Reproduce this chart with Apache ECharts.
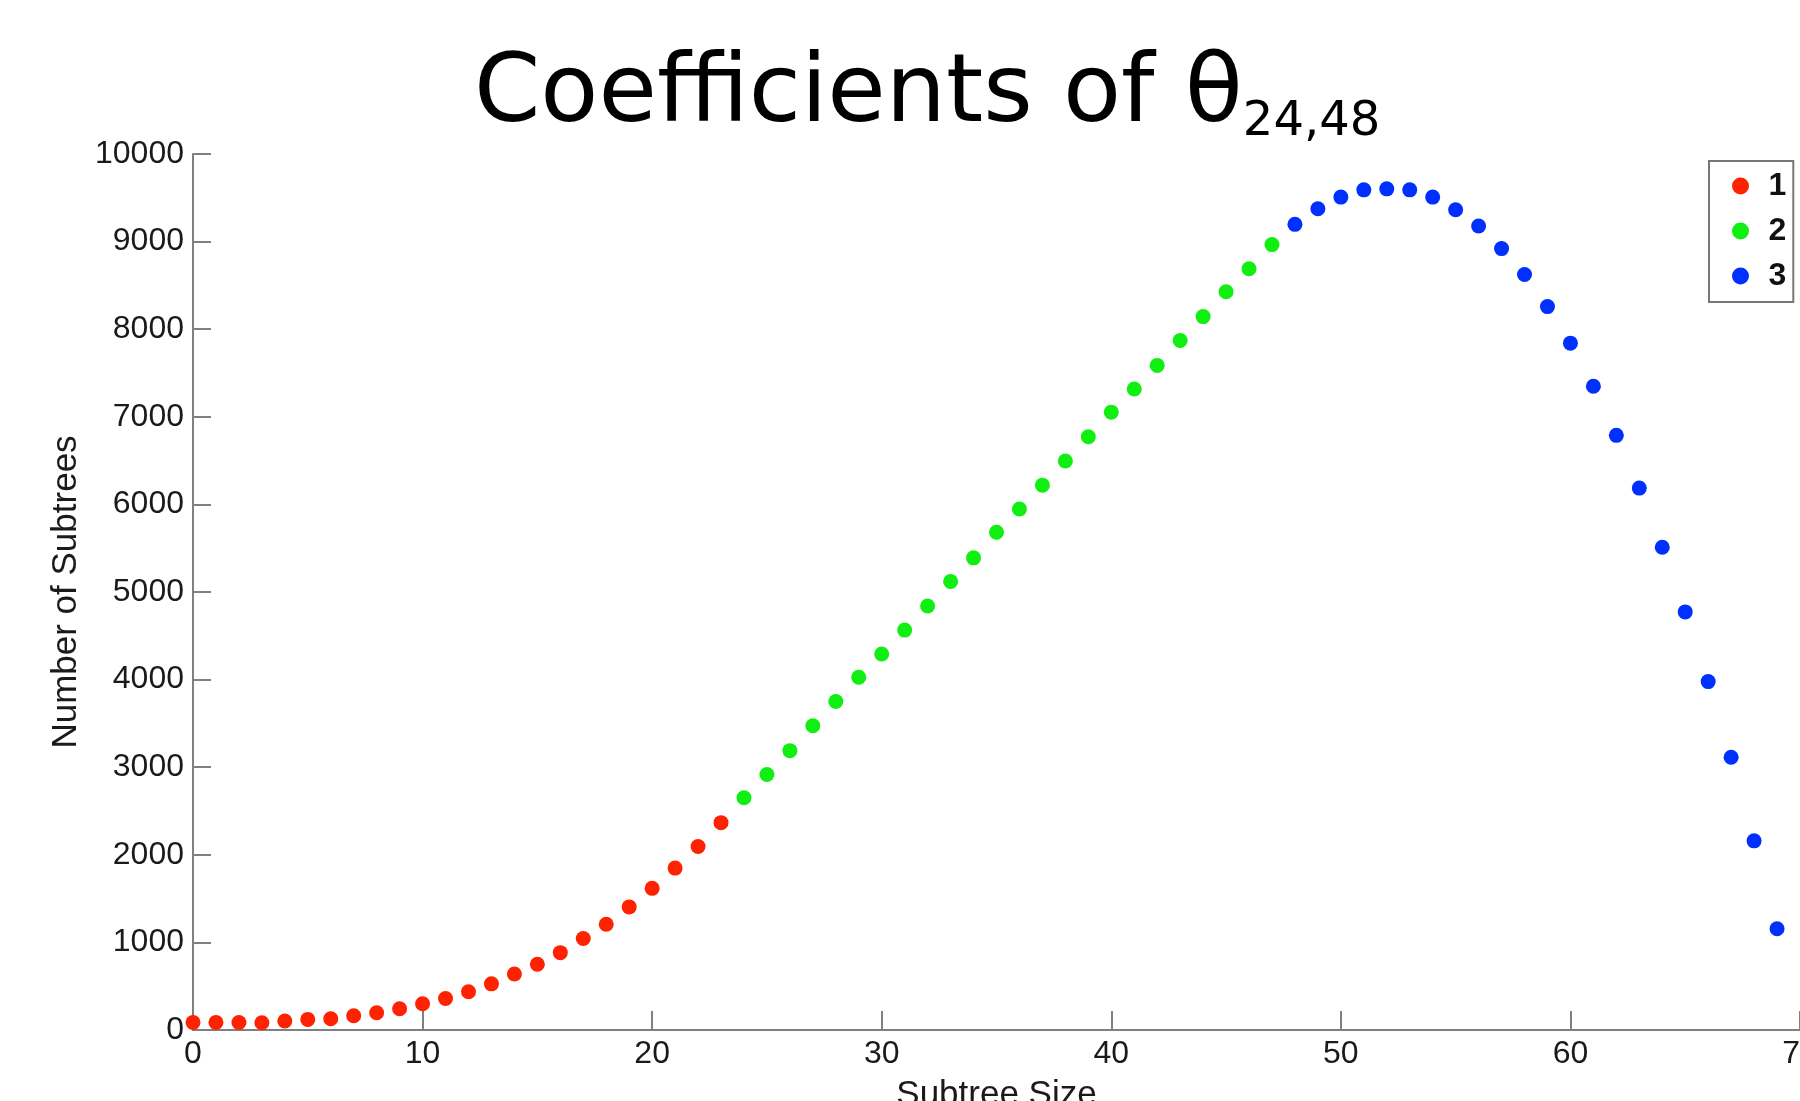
<!DOCTYPE html>
<html>
<head>
<meta charset="utf-8">
<style>
html,body{margin:0;padding:0;background:#fff;}
#chart{width:1800px;height:1101px;}
</style>
<script src="https://cdn.jsdelivr.net/npm/echarts@6/dist/echarts.min.js"></script>
</head>
<body>
<div id="chart"></div>
<script>
// Subtree sizes per group
const sizes1 = [0,1,2,3,4,5,6,7,8,9,10,11,12,13,14,15,16,17,18,19,20,21,22,23];
const counts1 = [87,87,85,83,102,121,129,163,197,242,299,360,436,527,640,750,883,1045,1208,1405,1617,1848,2095,2367];
const sizes2 = [24,25,26,27,28,29,30,31,32,33,34,35,36,37,38,39,40,41,42,43,44,45,46,47];
const counts2 = [2651,2917,3189,3473,3750,4027,4292,4565,4841,5121,5390,5682,5947,6220,6496,6773,7053,7318,7587,7871,8144,8428,8690,8966];
const sizes3 = [48,49,50,51,52,53,54,55,56,57,58,59,60,61,62,63,64,65,66,67,68,69];
const counts3 = [9197,9375,9508,9591,9602,9591,9508,9364,9178,8920,8625,8258,7841,7348,6788,6186,5511,4773,3977,3114,2159,1156];
const seriesNames = ['1','2','3'];
const xTicks = {min:0, max:70, interval:10};
const yTicks = {min:0, max:10000, interval:1000};

const pair = (xs, ys) => xs.map((x, i) => [x, ys[i]]);
const colors = ['#ff2200', '#11ee11', '#0030ff'];
const tickFont = {fontFamily:'Liberation Sans, Arial, sans-serif', fontSize:32, color:'#1a1a1a'};

const chart = echarts.init(document.getElementById('chart'), null, {renderer:'canvas'});
chart.setOption({
  backgroundColor:'#fff',
  animation:false,
  title:{
    left:474, top:49, padding:0,
    text:'{a|Coefficients of θ}{b|24,48}',
    textStyle:{
      fontWeight:'normal',
      rich:{
        a:{fontFamily:'DejaVu Sans', fontSize:95, fontWeight:'normal', color:'#000', lineHeight:90, verticalAlign:'top'},
        b:{fontFamily:'DejaVu Sans', fontSize:48, fontWeight:'normal', color:'#000', lineHeight:98, verticalAlign:'bottom'}
      }
    }
  },
  legend:{
    orient:'vertical', left:1709, top:161,
    padding:[9,7,10,23],
    borderColor:'#777', borderWidth:2, backgroundColor:'#fff',
    itemWidth:46, itemHeight:17, itemGap:13,
    icon:'circle',
    textStyle:{fontFamily:'Liberation Sans, Arial, sans-serif', fontSize:32, fontWeight:'bold', color:'#111', lineHeight:30},
    data:seriesNames
  },
  grid:{left:193, right:0, top:154, bottom:71, containLabel:false, outerBoundsMode:'none'},
  xAxis:{
    type:'value', min:xTicks.min, max:xTicks.max, interval:xTicks.interval,
    name:'Subtree Size', nameLocation:'middle', nameGap:48,
    nameTextStyle:{fontFamily:'Liberation Sans, Arial, sans-serif', fontSize:35, color:'#1a1a1a'},
    axisLine:{show:true, onZero:false, lineStyle:{color:'#808080', width:2}},
    axisTick:{show:true, inside:true, length:19, lineStyle:{color:'#808080', width:2}},
    axisLabel:Object.assign({margin:8, formatter:v=>String(v)}, tickFont),
    splitLine:{show:false}
  },
  yAxis:{
    type:'value', min:yTicks.min, max:yTicks.max, interval:yTicks.interval,
    name:'Number of Subtrees', nameLocation:'middle', nameGap:108,
    nameTextStyle:{fontFamily:'Liberation Sans, Arial, sans-serif', fontSize:35, color:'#1a1a1a'},
    axisLine:{show:true, onZero:false, lineStyle:{color:'#808080', width:2}},
    axisTick:{show:true, inside:true, length:18, lineStyle:{color:'#808080', width:2}},
    axisLabel:Object.assign({margin:9, formatter:v=>String(v)}, tickFont),
    splitLine:{show:false}
  },
  series:[
    {name:seriesNames[0], type:'scatter', symbol:'circle', symbolSize:15, itemStyle:{color:colors[0], opacity:1}, data:pair(sizes1, counts1), clip:false},
    {name:seriesNames[1], type:'scatter', symbol:'circle', symbolSize:15, itemStyle:{color:colors[1], opacity:1}, data:pair(sizes2, counts2), clip:false},
    {name:seriesNames[2], type:'scatter', symbol:'circle', symbolSize:15, itemStyle:{color:colors[2], opacity:1}, data:pair(sizes3, counts3), clip:false}
  ]
});
</script>
</body>
</html>
